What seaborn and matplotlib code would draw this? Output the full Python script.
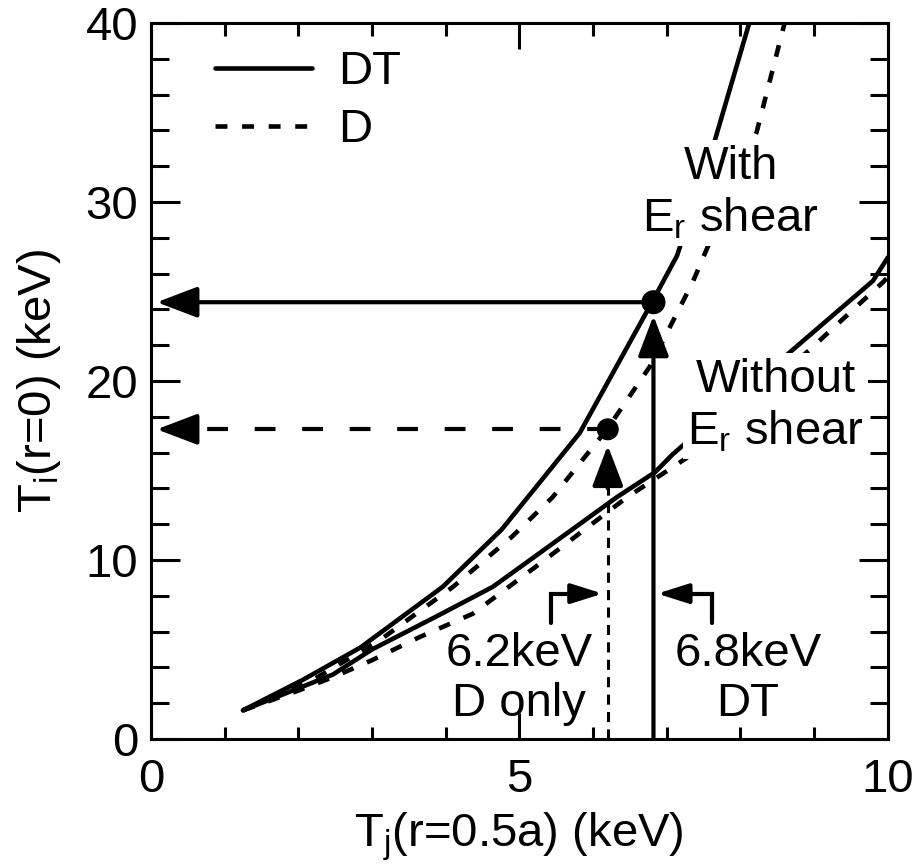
import numpy as np
import pandas as pd
import matplotlib
matplotlib.use('Agg')
import matplotlib.pyplot as plt
import seaborn as sns

# Ti(r=0.5a) vs Ti(r=0) (keV)
dt_shear_x = [1.25, 2.06, 2.84, 3.96, 4.76, 5.82, 6.80, 7.14, 7.65, 8.12]
dt_shear_y = [1.6, 3.3, 5.1, 8.5, 11.7, 17.1, 24.4, 27.0, 33.4, 40.0]
d_shear_x = [1.25, 2.2, 3.1, 4.1, 4.9, 5.45, 6.19, 6.77, 7.35, 8.22, 8.6]
d_shear_y = [1.6, 3.3, 5.5, 8.5, 11.3, 13.5, 17.3, 20.8, 25.5, 33.9, 40.0]
dt_noshear_x = [1.25, 2.47, 3.0, 3.9, 4.64, 5.28, 6.32, 6.84, 7.08, 8.67, 9.8, 10.0]
dt_noshear_y = [1.6, 3.6, 5.0, 6.9, 8.5, 10.4, 13.5, 14.9, 15.9, 21.6, 25.6, 26.9]
d_noshear_x = [1.25, 2.0, 2.5, 3.0, 3.65, 4.37, 5.28, 6.46, 7.27, 8.9, 9.93, 10.0]
d_noshear_y = [1.6, 2.7, 3.5, 4.4, 5.7, 7.0, 9.8, 13.5, 15.7, 21.6, 25.5, 25.8]

dt_edge, dt_core = 6.82, 24.4
d_edge, d_core = 6.2, 17.3

sns.set_theme(style='ticks')
plt.rcParams['font.family'] = ['Liberation Sans', 'DejaVu Sans']
plt.rcParams['mathtext.default'] = 'regular'
plt.rcParams['text.color'] = 'black'
plt.rcParams['axes.labelcolor'] = 'black'
plt.rcParams['xtick.color'] = 'black'
plt.rcParams['ytick.color'] = 'black'
fs = 34
lw = 3.3

curves = pd.concat([
    pd.DataFrame({'ti_half': dt_shear_x, 'ti_core': dt_shear_y, 'fuel': 'DT', 'case': 'DT shear'}),
    pd.DataFrame({'ti_half': d_shear_x, 'ti_core': d_shear_y, 'fuel': 'D', 'case': 'D shear'}),
    pd.DataFrame({'ti_half': dt_noshear_x, 'ti_core': dt_noshear_y, 'fuel': 'DT', 'case': 'DT no shear'}),
    pd.DataFrame({'ti_half': d_noshear_x, 'ti_core': d_noshear_y, 'fuel': 'D', 'case': 'D no shear'}),
], ignore_index=True)

fig = plt.figure(figsize=(9.2, 8.64), dpi=100)
ax = fig.add_axes([0.164, 0.1447, 0.801, 0.8287])

sns.lineplot(data=curves, x='ti_half', y='ti_core', style='fuel', units='case',
             estimator=None, sort=False, color='black', linewidth=lw,
             dashes={'DT': '', 'D': (2.6, 3.2)}, ax=ax)

old = ax.get_legend()
handles = old.legend_handles
labels = [t.get_text() for t in old.get_texts()]
for h in handles:
    h.set_color('black')
    h.set_linewidth(lw)
ax.legend(handles, labels, loc='upper left', bbox_to_anchor=(0.087, 0.962),
          frameon=False, fontsize=fs, handlelength=2.05, handletextpad=0.55,
          borderpad=0, borderaxespad=0, labelspacing=0.3)

# markers at the read-off points
sns.scatterplot(x=[dt_edge, d_edge], y=[dt_core, d_core], s=[300, 250],
                color='black', edgecolor='black', linewidth=0, zorder=6,
                legend=False, ax=ax)

big = dict(arrowstyle='-|>,head_length=2.5,head_width=0.95', mutation_scale=10,
           color='black', lw=3.0, shrinkA=0, shrinkB=0)
small = dict(arrowstyle='-|>,head_length=1.9,head_width=0.6', mutation_scale=10,
             color='black', lw=3.0, shrinkA=0, shrinkB=0)

# horizontal arrows to the core temperature axis
ax.annotate('', xy=(0.08, dt_core), xytext=(dt_edge, dt_core), arrowprops=big, zorder=4)
ax.plot([d_edge, 0.6], [d_core, d_core], color='black', lw=3.0,
        dashes=(5.0, 6.4), zorder=4)
ax.annotate('', xy=(0.08, d_core), xytext=(0.62, d_core), arrowprops=big, zorder=4)

# vertical arrows from the edge temperature axis
ax.annotate('', xy=(dt_edge, dt_core - 0.75), xytext=(dt_edge, 0), arrowprops=big, zorder=4)
ax.plot([d_edge, d_edge], [0, 14.0], color='black', lw=2.2, dashes=(3.3, 2.4), zorder=4)
ax.annotate('', xy=(d_edge, d_core - 0.9), xytext=(d_edge, 14.0), arrowprops=big, zorder=4)

# brackets pointing at the thresholds
ax.plot([5.43, 5.43, 5.8], [6.5, 8.12, 8.12], color='black', lw=3.0, solid_joinstyle='miter')
ax.annotate('', xy=(d_edge - 0.07, 8.12), xytext=(5.7, 8.12), arrowprops=small)
ax.plot([7.61, 7.61, 7.2], [6.5, 8.12, 8.12], color='black', lw=3.0, solid_joinstyle='miter')
ax.annotate('', xy=(dt_edge + 0.05, 8.12), xytext=(7.3, 8.12), arrowprops=small)

ax.text(5.0, 3.35, '6.2keV\nD only', ha='center', va='center', fontsize=fs,
        linespacing=1.2, zorder=5)
ax.text(8.1, 3.35, '6.8keV\nDT', ha='center', va='center', fontsize=fs,
        linespacing=1.2, zorder=5)
white = dict(facecolor='white', edgecolor='none', pad=3)
ax.text(7.87, 30.5, 'With\nE$_r$ shear', ha='center', va='center', fontsize=fs,
        linespacing=1.2, bbox=white, zorder=5)
ax.text(8.48, 18.6, 'Without\nE$_r$ shear', ha='center', va='center', fontsize=fs,
        linespacing=1.2, bbox=white, zorder=5)

ax.set_xlim(0, 10)
ax.set_ylim(0, 40)
ax.set_xticks([0, 5, 10])
ax.set_xticks(np.arange(0, 11, 1), minor=True)
ax.set_yticks([0, 10, 20, 30, 40])
ax.set_yticks(np.arange(0, 41, 2), minor=True)
ax.tick_params(which='both', direction='in', top=True, right=True, width=2.2,
               colors='black', labelsize=fs)
ax.tick_params(axis='x', which='major', length=19, pad=14)
ax.tick_params(axis='x', which='minor', length=9)
ax.tick_params(axis='y', which='major', length=21, pad=9)
ax.tick_params(axis='y', which='minor', length=13)
for s in ax.spines.values():
    s.set_linewidth(2.2)
    s.set_color('black')

ax.set_xlabel('T$_j$(r=0.5a) (keV)', fontsize=fs, labelpad=6)
ax.set_ylabel('T$_i$(r=0) (keV)', fontsize=fs, labelpad=16)

fig.savefig('out.png', dpi=100, facecolor='white')
